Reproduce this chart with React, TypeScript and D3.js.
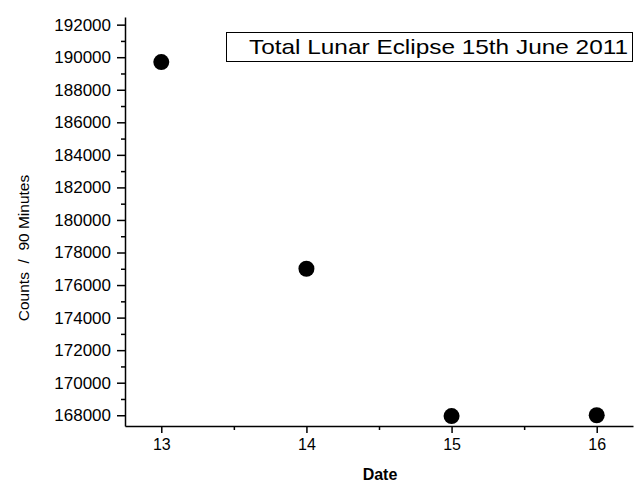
import React, { useEffect, useRef } from 'react';
import * as d3 from 'd3';

// data
const dates = [13, 14, 15, 16];
const counts = [189700, 177000, 167950, 168000];

const xTicks = [13, 14, 15, 16];
const xMinorTicks = [13.5, 14.5, 15.5];
const yTicks = [168000, 170000, 172000, 174000, 176000, 178000, 180000, 182000, 184000, 186000, 188000, 190000, 192000];
const yMinorTicks = [169000, 171000, 173000, 175000, 177000, 179000, 181000, 183000, 185000, 187000, 189000, 191000];

const title = 'Total Lunar Eclipse 15th June 2011';
const xTitle = 'Date';
const yTitle = 'Counts  /  90 Minutes';

const App = () => {
  const svgRef = useRef<SVGSVGElement | null>(null);

  useEffect(() => {
    const width = 635;
    const height = 482;
    const font = 'Liberation Sans, Arial, sans-serif';

    const svg = d3.select(svgRef.current);
    svg.selectAll('*').remove();
    svg.attr('width', width).attr('height', height).attr('font-family', font);

    const x = d3.scaleLinear().domain([12.75, 16.25]).range([125, 633]);
    const y = d3.scaleLinear().domain([167340, 192470]).range([426, 17]);

    // minor ticks first (no labels)
    svg.append('g')
      .attr('transform', 'translate(0,426)')
      .call(d3.axisBottom(x).tickValues(xMinorTicks).tickSize(4).tickSizeOuter(0).tickFormat(() => ''))
      .call(g => g.select('.domain').remove());

    svg.append('g')
      .attr('transform', 'translate(125,0)')
      .call(d3.axisLeft(y).tickValues(yMinorTicks).tickSize(4).tickSizeOuter(0).tickFormat(() => ''))
      .call(g => g.select('.domain').remove());

    // major axes
    svg.append('g')
      .attr('transform', 'translate(0,426)')
      .call(d3.axisBottom(x).tickValues(xTicks).tickSize(7).tickSizeOuter(0).tickPadding(6).tickFormat(d3.format('d')))
      .attr('font-family', font)
      .attr('font-size', 16)
      .selectAll('text')
      .attr('fill', '#000');

    svg.append('g')
      .attr('transform', 'translate(125,0)')
      .call(d3.axisLeft(y).tickValues(yTicks).tickSize(8).tickSizeOuter(0).tickPadding(6).tickFormat(d3.format('d')))
      .attr('font-family', font)
      .attr('font-size', 17)
      .selectAll('text')
      .attr('fill', '#000');

    svg.selectAll('.domain, .tick line').attr('stroke', '#000').attr('stroke-width', 1.5);

    // points
    svg.append('g')
      .selectAll('circle')
      .data(dates.map((d, i) => ({ date: d, value: counts[i] })))
      .enter()
      .append('circle')
      .attr('cx', d => x(d.date))
      .attr('cy', d => y(d.value))
      .attr('r', 8)
      .attr('fill', '#000');

    // axis titles
    svg.append('text')
      .attr('x', 380)
      .attr('y', 480)
      .attr('text-anchor', 'middle')
      .attr('font-size', 16)
      .attr('font-weight', 'bold')
      .text(xTitle);

    svg.append('text')
      .attr('transform', 'translate(29,248) rotate(-90)')
      .attr('text-anchor', 'middle')
      .attr('font-size', 15.5)
      .style('white-space', 'pre')
      .text(yTitle);

    // title box
    svg.append('rect')
      .attr('x', 226.5)
      .attr('y', 32.5)
      .attr('width', 406)
      .attr('height', 29)
      .attr('fill', '#fff')
      .attr('stroke', '#000')
      .attr('stroke-width', 1);

    svg.append('text')
      .attr('x', 249)
      .attr('y', 54)
      .attr('textLength', 379)
      .attr('lengthAdjust', 'spacingAndGlyphs')
      .attr('font-size', 21)
      .text(title);
  }, []);

  return <svg ref={svgRef} style={{ position: 'absolute', left: 0, top: 0 }}></svg>;
};

export default App;
